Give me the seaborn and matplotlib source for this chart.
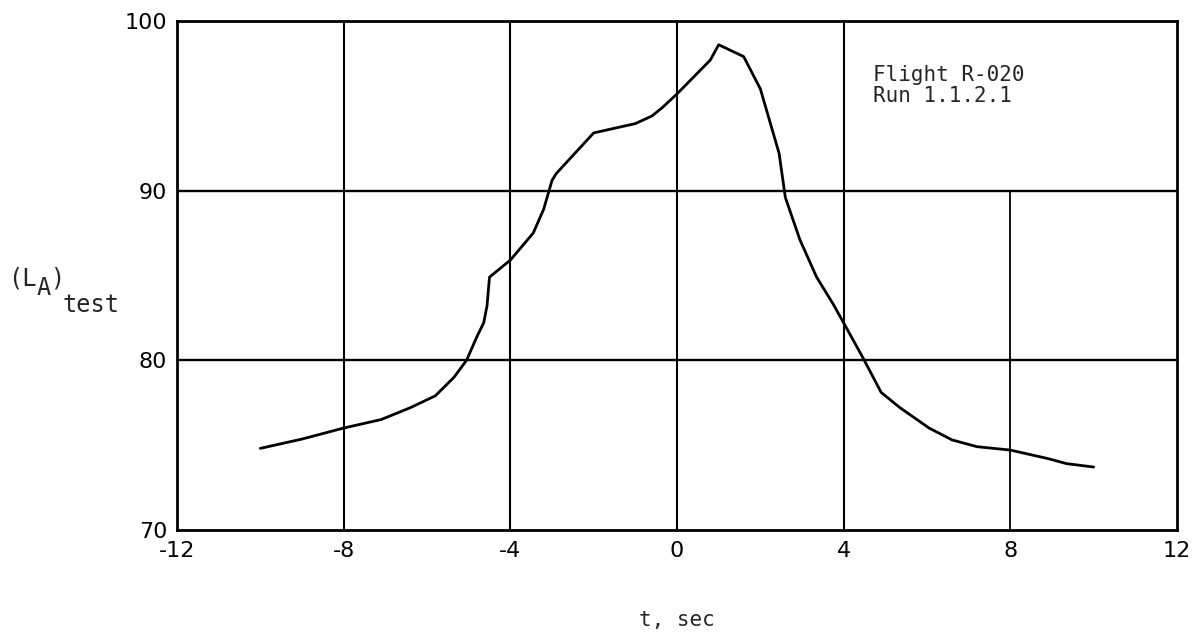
import matplotlib
matplotlib.use("Agg")
import matplotlib.pyplot as plt
from matplotlib import font_manager
import seaborn as sns
import pandas as pd

# A-weighted sound level during the flyover, Flight R-020, Run 1.1.2.1
t_sec = [-10.0, -9.0, -8.0, -7.1, -6.4, -5.8, -5.35, -5.05, -4.8, -4.64, -4.56, -4.5,
         -4.0, -3.45, -3.2, -3.0, -2.9, -2.0, -1.0, -0.6, -0.35, 0.0, 0.8, 1.0,
         1.6, 2.0, 2.45, 2.6, 2.95, 3.35, 3.75, 4.0, 4.45, 4.9, 5.35, 6.05, 6.6,
         7.2, 8.0, 8.9, 9.35, 10.0]
la_test = [74.8, 75.35, 76.0, 76.5, 77.2, 77.9, 79.0, 80.0, 81.4, 82.2, 83.2, 84.9,
           85.9, 87.5, 88.9, 90.6, 91.0, 93.4, 93.95, 94.4, 94.9, 95.7, 97.7, 98.6,
           97.9, 96.0, 92.2, 89.6, 87.1, 84.9, 83.3, 82.2, 80.2, 78.1, 77.2, 76.0,
           75.3, 74.9, 74.7, 74.2, 73.9, 73.7]

x_ticks = [-12, -8, -4, 0, 4, 8, 12]
y_ticks = [70, 80, 90, 100]
note_lines = ["Flight R-020", "Run 1.1.2.1"]

df = pd.DataFrame({"t": t_sec, "LA": la_test})

sns.set_style("white")
plt.rcParams["font.family"] = ["DejaVu Sans"]

installed = {f.name for f in font_manager.fontManager.ttflist}
tick_family = "Liberation Sans Narrow" if "Liberation Sans Narrow" in installed else "DejaVu Sans"
mono = "DejaVu Sans Mono"

W, H = 1201, 636
fig = plt.figure(figsize=(W / 100, H / 100), dpi=100)
ax = fig.add_axes([0.1474, 0.167, 0.8326, 0.800])

# grid: full lines except x = 8, which stops at the 90 line below the note
for xv in [-8, -4, 0, 4]:
    ax.axvline(xv, color="black", lw=1.5, zorder=1)
ax.axvline(8, ymin=0, ymax=(90 - 70) / 30, color="black", lw=1.3, zorder=1)
for yv in [80, 90]:
    ax.axhline(yv, color="black", lw=1.7, zorder=1)

sns.lineplot(data=df, x="t", y="LA", color="black", lw=2.0, ax=ax, zorder=3)

ax.set_xlim(-12, 12)
ax.set_ylim(70, 100)
ax.set_xticks(x_ticks)
ax.set_yticks(y_ticks)
ax.set_xticklabels([str(v) for v in x_ticks])
ax.set_yticklabels([str(v) for v in y_ticks])
ax.tick_params(axis="both", length=0, labelsize=17 if tick_family != "DejaVu Sans" else 16,
               colors="black")
ax.tick_params(axis="x", pad=8)
ax.tick_params(axis="y", pad=7)
for lab in ax.get_xticklabels() + ax.get_yticklabels():
    lab.set_family(tick_family)

for side in ax.spines.values():
    side.set_visible(True)
    side.set_color("black")
    side.set_linewidth(2.0)

ax.set_xlabel("t, sec", family=mono, fontsize=15, labelpad=35)
ax.set_ylabel("")

# y-axis label (L_A)_test, typewriter style with full-size subscripts
def px_text(x, y, s):
    fig.text(x / W, 1 - y / H, s, family=mono, fontsize=17, ha="left", va="baseline")

px_text(8, 285, "(L")
px_text(37, 295, "A")
px_text(50, 285, ")")
px_text(62, 312, "test")

ax.text(4.7, 97.4, "\n".join(note_lines), family=mono,
        fontsize=15, ha="left", va="top", linespacing=1.05)

fig.savefig("out.png", dpi=100, facecolor="white")
